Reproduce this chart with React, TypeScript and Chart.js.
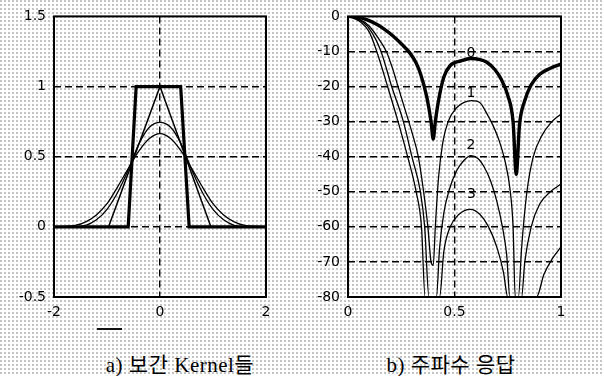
import React, { useEffect, useRef } from 'react';
import { Chart, registerables } from 'chart.js';

Chart.register(...registerables);

// ---------- a) interpolation kernels ----------
const kernelXTicks = [-2, 0, 2];
const kernelYTicks = [-0.5, 0, 0.5, 1, 1.5];

const boxX = [-2, -0.6, -0.45, 0.39, 0.55, 2];
const boxY = [0, 0, 1, 1, 0, 0];

const triX = [-2, -0.97, 0, 0.96, 2];
const triY = [0, 0, 1, 0, 0];

const smoothX = [-2, -1.6, -1.4, -1.2, -1.0, -0.8, -0.6, -0.4, -0.2, 0, 0.2, 0.4, 0.6, 0.8, 1.0, 1.2, 1.4, 1.6, 2];
const quadY = [0, 0, 0.01, 0.05, 0.125, 0.245, 0.405, 0.59, 0.71, 0.745, 0.71, 0.59, 0.405, 0.245, 0.125, 0.05, 0.01, 0, 0];
const cubicY = [0, 0.01, 0.036, 0.085, 0.165, 0.285, 0.415, 0.54, 0.63, 0.665, 0.63, 0.54, 0.415, 0.285, 0.165, 0.085, 0.036, 0.01, 0];

// ---------- b) frequency responses (dB) ----------
const respXTicks = [0, 0.5, 1];
const respYTicks = [-80, -70, -60, -50, -40, -30, -20, -10, 0];

const r0X = [0, 0.05, 0.09, 0.13, 0.17, 0.21, 0.25, 0.29, 0.32, 0.34, 0.37, 0.39, 0.4, 0.41, 0.425, 0.45, 0.48, 0.53, 0.575, 0.62, 0.65, 0.69, 0.72, 0.75, 0.775, 0.79, 0.805, 0.83, 0.86, 0.9, 0.95, 1.0];
const r0Y = [0, -0.3, -1.0, -2.1, -3.6, -5.5, -7.8, -10.4, -13.3, -16.3, -23, -30, -35, -30, -24, -17.3, -14, -12.7, -12, -12.3, -13, -15.2, -18, -22.5, -30, -45, -31, -24, -19.5, -16.5, -14.8, -13.6];

const r1X = [0, 0.05, 0.1, 0.14, 0.18, 0.21, 0.235, 0.265, 0.3, 0.33, 0.355, 0.375, 0.39, 0.4, 0.41, 0.425, 0.445, 0.47, 0.51, 0.545, 0.58, 0.62, 0.65, 0.68, 0.71, 0.74, 0.76, 0.775, 0.785, 0.8, 0.815, 0.84, 0.87, 0.91, 0.95, 1.0];
const r1Y = [0, -0.7, -2.8, -6, -10, -15, -20, -26, -33, -40, -50, -60, -70, -71, -60, -46, -36, -30, -26, -24.5, -24, -24.6, -27.5, -31, -35.5, -42, -49, -60, -80, -80, -66, -50, -40, -34, -30.5, -27.8];

const r2X = [0, 0.05, 0.1, 0.155, 0.205, 0.26, 0.3, 0.34, 0.36, 0.38, 0.415, 0.43, 0.45, 0.475, 0.51, 0.545, 0.577, 0.61, 0.64, 0.67, 0.7, 0.725, 0.745, 0.76, 0.815, 0.83, 0.86, 0.9, 0.95, 1.0];
const r2Y = [0, -0.9, -3.5, -10, -20, -30, -40, -50, -60, -80, -80, -66, -56, -49.5, -44, -41, -39.7, -40.5, -43, -47, -53, -60, -68, -80, -80, -70, -60, -53.5, -50, -47.8];

const r3X = [0, 0.05, 0.1, 0.135, 0.186, 0.235, 0.28, 0.32, 0.345, 0.362, 0.43, 0.45, 0.48, 0.52, 0.575, 0.62, 0.66, 0.7, 0.73, 0.75, 0.885, 0.92, 0.96, 1.0];
const r3Y = [0, -1.2, -4.5, -10, -20, -30, -40, -50, -60, -80, -80, -67, -60, -56.5, -55, -56.5, -60, -66, -73, -80, -80, -73.5, -69, -65.7];

const respLabels = ['0', '1', '2', '3'];
const respLabelX = [0.577, 0.577, 0.577, 0.58];
const respLabelY = [-10.4, -21.8, -36.9, -50.6];

const captionA = 'a) 보간 Kernel들';
const captionB = 'b) 주파수 응답';

const zip = (xs: number[], ys: number[]) => xs.map((x, i) => ({ x, y: ys[i] }));

const TICK_FONT = { family: '"DejaVu Sans", sans-serif', size: 14 };

const frameplugin = {
  id: 'frame',
  afterDatasetsDraw(chart: any) {
    const { ctx, chartArea: a } = chart;
    ctx.save();
    ctx.strokeStyle = '#000';
    ctx.lineWidth = 2;
    ctx.setLineDash([]);
    ctx.strokeRect(a.left, a.top, a.right - a.left, a.bottom - a.top);
    ctx.restore();
  },
};

const labelPlugin = {
  id: 'curveLabels',
  afterDatasetsDraw(chart: any) {
    const { ctx, scales } = chart;
    ctx.save();
    ctx.fillStyle = '#000';
    ctx.font = '14px "DejaVu Sans", sans-serif';
    ctx.textAlign = 'center';
    ctx.textBaseline = 'middle';
    respLabels.forEach((t, i) => {
      ctx.fillText(t, scales.x.getPixelForValue(respLabelX[i]), scales.y.getPixelForValue(respLabelY[i]));
    });
    ctx.restore();
  },
};

function gridColor(min: number, max: number) {
  return (c: any) => (c.tick && (c.tick.value === min || c.tick.value === max) ? 'rgba(0,0,0,0)' : '#000');
}

function makeScales(xMin: number, xMax: number, xStep: number, yMin: number, yMax: number, yStep: number, yWidth: number, xTicks: number[], yTicks: number[]) {
  return {
    x: {
      type: 'linear',
      min: xMin,
      max: xMax,
      afterBuildTicks: (s: any) => { s.ticks = xTicks.map((v) => ({ value: v })); },
      afterFit: (s: any) => { s.height = 33; },
      ticks: { stepSize: xStep, color: '#000', font: TICK_FONT, padding: 7, maxRotation: 0, autoSkip: false, callback: (v: any) => String(v) },
      grid: { color: gridColor(xMin, xMax), lineWidth: 1.4, drawTicks: false },
      border: { display: false, dash: [7, 4] },
    },
    y: {
      type: 'linear',
      min: yMin,
      max: yMax,
      afterBuildTicks: (s: any) => { s.ticks = yTicks.map((v) => ({ value: v })); },
      afterFit: (s: any) => { s.width = yWidth; },
      ticks: { stepSize: yStep, color: '#000', font: TICK_FONT, padding: 8, autoSkip: false, callback: (v: any) => String(v) },
      grid: { color: gridColor(yMin, yMax), lineWidth: 1.4, drawTicks: false },
      border: { display: false, dash: [7, 4] },
    },
  };
}

const baseLine = { borderColor: '#000', pointRadius: 0, fill: false };

export default function App() {
  const leftRef = useRef<HTMLCanvasElement>(null);
  const rightRef = useRef<HTMLCanvasElement>(null);

  useEffect(() => {
    const left = new Chart(leftRef.current as HTMLCanvasElement, {
      type: 'line',
      data: {
        datasets: [
          { ...baseLine, data: zip(boxX, boxY), borderWidth: 3.2, tension: 0 },
          { ...baseLine, data: zip(triX, triY), borderWidth: 1.5, tension: 0 },
          { ...baseLine, data: zip(smoothX, quadY), borderWidth: 1.3, cubicInterpolationMode: 'monotone' },
          { ...baseLine, data: zip(smoothX, cubicY), borderWidth: 1.3, cubicInterpolationMode: 'monotone' },
        ],
      } as any,
      options: {
        animation: false,
        responsive: false,
        layout: { padding: { left: 0, top: 15, right: 34, bottom: 0 } },
        plugins: { legend: { display: false }, tooltip: { enabled: false } },
        scales: makeScales(-2, 2, 2, -0.5, 1.5, 0.5, 54, kernelXTicks, kernelYTicks) as any,
      },
      plugins: [frameplugin],
    });

    const right = new Chart(rightRef.current as HTMLCanvasElement, {
      type: 'line',
      data: {
        datasets: [
          { ...baseLine, data: zip(r0X, r0Y), borderWidth: 3.4, cubicInterpolationMode: 'monotone' },
          { ...baseLine, data: zip(r1X, r1Y), borderWidth: 1.3, cubicInterpolationMode: 'monotone' },
          { ...baseLine, data: zip(r2X, r2Y), borderWidth: 1.3, cubicInterpolationMode: 'monotone' },
          { ...baseLine, data: zip(r3X, r3Y), borderWidth: 1.3, cubicInterpolationMode: 'monotone' },
        ],
      } as any,
      options: {
        animation: false,
        responsive: false,
        layout: { padding: { left: 0, top: 15, right: 43, bottom: 0 } },
        plugins: { legend: { display: false }, tooltip: { enabled: false } },
        scales: makeScales(0, 1, 0.5, -80, 0, 10, 48, respXTicks, respYTicks) as any,
      },
      plugins: [frameplugin, labelPlugin],
    });

    return () => {
      left.destroy();
      right.destroy();
    };
  }, []);

  const captionStyle: React.CSSProperties = {
    position: 'absolute',
    top: 353,
    width: 260,
    height: 24,
    lineHeight: '24px',
    textAlign: 'center',
    fontFamily: '"Liberation Serif", "Noto Sans CJK KR", serif',
    fontSize: 21,
    letterSpacing: 0.5,
    color: '#000',
    whiteSpace: 'nowrap',
  };

  return (
    <div
      style={{
        position: 'fixed',
        left: 0,
        top: 0,
        width: 604,
        height: 376,
        overflow: 'hidden',
        background: '#fff',
        backgroundImage: 'radial-gradient(circle at 1px 1px, #c4c4c4 0.9px, rgba(255,255,255,0) 1.1px)',
        backgroundSize: '4px 4px',
      }}
    >
      <canvas ref={leftRef} width={300} height={330} style={{ position: 'absolute', left: 0, top: 0 }} />
      <canvas ref={rightRef} width={304} height={330} style={{ position: 'absolute', left: 300, top: 0 }} />
      <div style={{ position: 'absolute', left: 97, top: 328, width: 25, height: 2, background: '#111' }} />
      <div style={{ ...captionStyle, left: 180 - 130 }}>{captionA}</div>
      <div style={{ ...captionStyle, left: 451 - 130 }}>{captionB}</div>
    </div>
  );
}
